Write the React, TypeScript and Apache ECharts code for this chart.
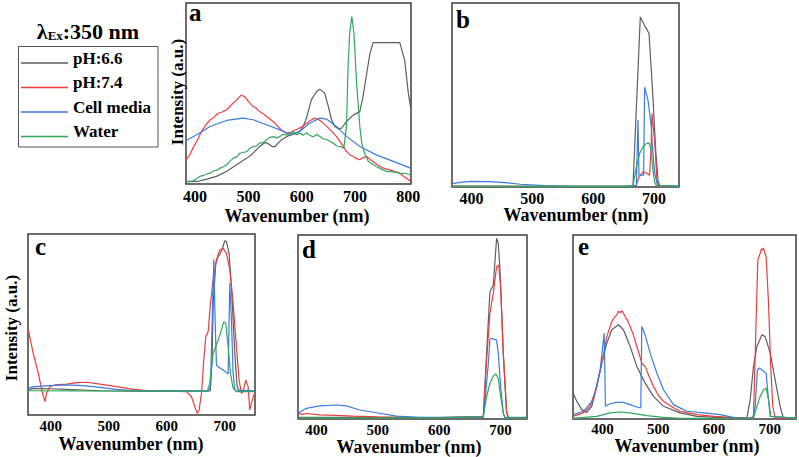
import React, { useEffect, useRef } from 'react';
import * as echarts from 'echarts';

type Pt = [number, number];

const SERIES_NAMES = ['pH:6.6', 'pH:7.4', 'Cell media', 'Water'];
const SERIES_COLORS = ['#5e5e5e', '#ee3b3b', '#3b7be0', '#2fa85a'];
const PANEL_LETTERS = ['a', 'b', 'c', 'd', 'e'];
const TICKS_A = [400, 500, 600, 700, 800];
const TICKS_BE = [400, 500, 600, 700];
const X_RANGES: [number, number][] = [[383, 805], [368, 741], [361, 752], [370, 743], [347, 747]];
const X_TITLE = 'Wavenumber (nm)';
const Y_TITLE = 'Intensity (a.u.)';
const EXCITATION = ':350 nm';

// ---- panel a ----
const A_PH66: Pt[] = [[383,1.4],[403,1.4],[422,2.7],[440,4.2],[459,6.9],[478,10.6],[497,14.3],[505,16],[510,17.5],[515,18.9],[520,20.5],[528,22.2],[533,23.0],[540,21.7],[545,20.6],[550,20.7],[556,22.6],[562,24.4],[575,26.6],[585,27.5],[596,29.0],[603,32],[609,36.4],[618,46.5],[628,51.1],[634,52.4],[643,50.2],[650,42.8],[656,35.5],[662,31.8],[669,30.6],[675,30.9],[684,34.5],[697,38.2],[709,40.0],[715,48.3],[722,61.2],[728,72.2],[734,78.1],[784,78.1],[793,68.6],[800,50.2],[804,42.8]];
const A_PH74: Pt[] = [[383,13.4],[390,16.0],[396,19.8],[404,24.0],[412,29.0],[420,32.5],[428,35.4],[435,36.8],[443,39.1],[451,39.8],[459,41.0],[465,42.5],[468,43.7],[473,45.0],[478,46.5],[483,48.0],[487,49.2],[490,48.6],[493,48.3],[497,46.8],[500,45.6],[505,44.0],[509,42.8],[515,41.8],[521,40.0],[527,39.0],[534,37.3],[541,35.8],[550,33.6],[556,31.5],[562,29.9],[567,28.9],[571,28.1],[580,28.6],[588,29.8],[596,30.9],[603,32.0],[609,33.6],[617,35.2],[625,36.4],[632,35.5],[640,33.8],[647,31.8],[655,29.5],[665,26.3],[675,22.0],[684,18.0],[690,16.2],[697,15.2],[703,14.0],[709,13.4],[715,14.6],[722,15.2],[728,13.6],[734,12.4],[740,11.0],[747,9.7],[755,8.6],[765,7.8],[775,6.8],[784,6.0],[792,4.0],[800,2.5],[804,1.4]];
const A_CELL: Pt[] = [[383,24.0],[403,27.2],[428,31.8],[459,35.1],[490,36.4],[509,35.5],[534,32.7],[559,29.9],[578,27.5],[596,29.0],[615,33.6],[634,36.4],[647,35.8],[665,31.8],[684,26.3],[709,20.7],[740,16.1],[772,12.5],[804,8.8]];
const A_WATER: Pt[] = [[383,1.4],[390,1.2],[397,1.8],[403,3.0],[409,4.2],[416,4.8],[422,5.5],[428,6.0],[434,7.2],[440,7.5],[447,8.8],[453,9.5],[459,10.6],[465,12.5],[472,14.3],[478,15.0],[484,17.0],[490,17.4],[497,17.9],[503,19.8],[509,20.7],[515,21.0],[521,22.6],[528,23.0],[534,24.4],[540,25.8],[547,26.2],[553,25.5],[559,26.2],[565,27.5],[572,27.0],[578,28.1],[584,29.0],[590,27.3],[596,28.1],[603,27.0],[609,28.3],[615,27.1],[621,26.0],[628,27.4],[634,26.2],[640,25.0],[647,24.6],[653,23.5],[659,22.6],[666,21.0],[672,20.7],[679,19.8],[684,31.7],[687,64.9],[690,83.3],[694,92.5],[698,83.3],[703,55.7],[709,31.7],[713,22.0],[718,17.0],[725,12.4],[732,11.0],[740,9.7],[750,8.2],[759,6.9],[770,6.8],[784,6.0],[795,5.8],[804,5.1]];

// ---- panel b ----
const B_PH66: Pt[] = [[368,0.5],[450,0.4],[550,0.3],[650,0.3],[665.4,0.4],[677.4,92.4],[684,88],[691.7,83.6],[698,50],[702.7,20],[706.5,3.6],[709.2,0.7],[741,0.4]];
const B_PH74: Pt[] = [[368,0.4],[500,0.3],[660,0.3],[670.9,0.9],[675.2,5.5],[681.8,8.2],[687.3,7.6],[692.7,6.4],[695,20],[696.6,40.0],[698.5,33],[700.9,25.5],[704.8,3.6],[708.1,0.5],[741,0.3]];
const B_CELL: Pt[] = [[368,1.8],[385,2.6],[400,3.1],[430,2.9],[460,2.2],[480,1.5],[520,0.8],[560,0.4],[650,0.3],[670.9,0.9],[673.6,36.4],[675.2,6.4],[682.9,6.4],[684.5,54.2],[686.2,52],[690,47.3],[695.5,32.7],[698.2,18.2],[700.9,8],[703.7,3.6],[705.5,0.9],[741,0.3]];
const B_WATER: Pt[] = [[368,0.3],[500,0.3],[660,0.3],[665.4,0.9],[670.9,10.9],[676.3,18.2],[681.8,21.8],[687.3,23.6],[691.7,24.0],[695.5,20.0],[698.2,9.1],[700.9,2.7],[703.7,0.7],[741,0.3]];

// ---- panel c ----
const C_PH66: Pt[] = [[361.5,13.8],[370,14.7],[400,14.5],[427,14.2],[485,13.4],[550,13.2],[620,13.2],[675,13.3],[678,30],[680,61.7],[684.5,83.8],[688.5,87.5],[692.5,89.3],[696,92.1],[700,96.3],[702.8,95.8],[707.4,89.3],[711.4,70.9],[717.2,34.1],[721.2,15.7],[725,13.3],[752,13.2]];
const C_PH74: Pt[] = [[361.5,47],[370,34.1],[378.7,23],[386.1,12],[390.2,7.4],[393,12],[398.8,15.7],[407.4,16.6],[427.4,17.1],[444.7,17.9],[461.9,18.1],[484.8,17.1],[513.5,15.7],[542.2,14.2],[570.9,13.4],[616.8,13.1],[634,12.9],[642.6,10.1],[648.3,4.6],[652.3,0.9],[655.8,2.8],[659.8,12],[663.8,30.4],[667.3,43.3],[671.3,46],[675.3,61.7],[679.9,74.6],[685.6,85.7],[691.3,91.2],[697.1,92.1],[702.8,89.3],[708.6,80.1],[714.3,61.7],[720,37.8],[724.6,19.3],[728.6,12],[731.5,12.9],[736.1,19.3],[740.1,15.7],[743,2.8],[745.8,6.4],[749.9,11],[751.6,12]];
const C_CELL: Pt[] = [[361.5,14.7],[370,15.7],[398.8,16.2],[427.4,16.6],[456,16.2],[484.8,15.3],[513.5,14.2],[542,13.4],[599.6,13.3],[671.3,13.3],[675.3,15.7],[681,86],[683.3,52.5],[685.6,27.6],[688.5,26.7],[697.1,24.9],[705.7,22.7],[708.6,72.8],[711.4,52.5],[714.3,23],[717.2,13.8],[752,13.3]];
const C_WATER: Pt[] = [[361.5,13.4],[450,13.3],[620,13.2],[670,13.3],[674,17.5],[680,34.1],[688.5,41.4],[694.2,47],[698.2,51.6],[701.7,50.7],[705.7,37.8],[709.7,23],[714.3,14.7],[720,12.9],[752,12.9]];

// ---- panel d ----
const D_PH66: Pt[] = [[370,0.9],[450,0.9],[600,0.8],[671.8,1.3],[677.2,35.7],[682.6,69.2],[688.1,72.8],[693.5,98.2],[696.2,95.5],[699,81],[704.4,35.7],[709.8,4],[712.5,0.9],[743,0.8]];
const D_PH74: Pt[] = [[370,3.1],[378,2.5],[383.6,3.0],[405.4,2.2],[430,2.0],[459.7,1.6],[500,1.2],[541.3,0.9],[600,0.8],[671.8,1.3],[677.2,32.1],[682.6,57.4],[688.1,68.3],[693.5,82.8],[696.8,83.7],[700.1,71.9],[704.4,35.7],[709.8,3.1],[713,0.8],[743,0.8]];
const D_CELL: Pt[] = [[370,3.1],[383.6,5.8],[405.4,7.1],[432.5,7.6],[448.9,7.1],[470.6,4.9],[497.8,3.4],[530.4,1.6],[568.5,0.9],[671.8,0.9],[676,15],[680,30],[682.6,43.3],[685.4,43.9],[693.5,42.9],[696.2,35.7],[700.1,17.6],[704.4,3.1],[707,0.9],[743,0.9]];
const D_WATER: Pt[] = [[370,0.6],[600,0.6],[671.8,1.3],[677.2,12.1],[682.6,19.4],[688.1,23.4],[692.4,24.5],[696.2,22.1],[700.1,12.1],[704.4,3.1],[707,0.6],[743,0.6]];

// ---- panel e ----
const E_PH66: Pt[] = [[347,14.1],[353.8,9.6],[362.8,5.1],[371.8,3.6],[380.7,6.9],[389.7,17.7],[398.7,30.4],[407.6,41.2],[416.6,48.5],[428.6,51.2],[437.5,48.5],[449.5,39.4],[461.5,28.6],[476.4,19.5],[491.4,12.3],[509.3,6.9],[539.2,3.3],[569.1,1.4],[629,0.5],[658.8,0.5],[664.8,10.5],[670.8,28.6],[676.9,39.4],[685.7,45.7],[691.7,44.8],[700.7,35.8],[709.6,21.3],[718.6,6.9],[724.6,0],[747,0]];
const E_PH74: Pt[] = [[346.6,1.4],[365.8,3.3],[377.7,6.9],[389.7,17.7],[398.7,30.4],[407.6,44.8],[416.6,53],[422,55.5],[425.6,56.6],[428,58.5],[431.6,57.9],[435,58.8],[440.5,55.7],[445,53.5],[449.5,50.3],[455,46],[461.5,39.4],[466,35],[470.4,30.4],[473,29.5],[476.4,28.6],[483,23.5],[491.4,17.7],[500,13],[509.3,9.6],[525,6.5],[539.2,4.2],[555,3.2],[569.1,2.4],[600,1.4],[629,0.9],[664.8,0.5],[670.8,1.4],[675.5,53.9],[678.5,86.4],[682.7,90],[685,92.5],[686.9,91.8],[688.5,93],[690.5,90.9],[693.5,88.2],[697.7,62.9],[701.9,26.8],[705.4,6.9],[709.6,0.5],[747,0.5]];
const E_CELL: Pt[] = [[346.6,2.4],[365.8,4.2],[383.7,10.5],[395.7,26.8],[402.9,46.6],[405.2,6.9],[413.6,8.3],[425.6,9.0],[437.5,9.0],[449.5,7.8],[461.5,6.5],[468.6,6.0],[470.4,50.3],[476.4,45.7],[485.4,35.8],[497.3,25],[509.3,15.9],[527.2,7.8],[551.2,4.2],[581,3.3],[611,2.4],[640.9,0.5],[669.6,0.5],[673.7,6.9],[677.9,26.8],[681.5,27.7],[688.7,25.9],[693.5,24.9],[697.7,10.5],[700.7,1.4],[747,0.5]];
const E_WATER: Pt[] = [[346.6,0.3],[389.7,1.4],[413.6,3.3],[431.6,3.8],[449.5,3.3],[479.4,1.8],[509.3,0.9],[540,0.3],[670.8,0.5],[676.9,6.9],[682.7,12.3],[688.7,15.9],[693.5,16.8],[697.7,10.5],[701.9,1.4],[747,0.3]];

const PANEL_DATA: Pt[][][] = [
  [A_PH66, A_PH74, A_CELL, A_WATER],
  [B_PH66, B_PH74, B_CELL, B_WATER],
  [C_PH66, C_PH74, C_CELL, C_WATER],
  [D_PH66, D_PH74, D_CELL, D_WATER],
  [E_PH66, E_PH74, E_CELL, E_WATER],
];

const FONT = '"Liberation Serif", "Times New Roman", serif';

const GRIDS = [
  { left: 186, top: 3, width: 225, height: 181 },
  { left: 452, top: 3, width: 227, height: 184 },
  { left: 28, top: 234, width: 227, height: 181 },
  { left: 298, top: 235, width: 229, height: 184 },
  { left: 573, top: 235, width: 223, height: 184 },
];
const LABEL_MARGINS = [4, 3, 3, 3, 2];
const LABEL_SIZES = [16, 16, 15, 15, 15];
const LETTER_POS = [[189, 12.5], [456, 19], [35, 246], [302, 249.5], [578, 246]];
const XTITLE_POS = [[297, 216], [576, 215], [131, 444], [409, 447], [687, 446]];
const YTITLE_POS = [[177, 92], [11, 328]];
// legend icon: a line drawn at the foot of the icon box (text baseline), with a tiny invisible anchor at the top
const LEGEND_ICON = 'path://M0,0 L0.01,0 L0.01,0.01 L0,0.01 Z M0,10 L47,10 L47,11.5 L0,11.5 Z';

export default function App() {
  const ref = useRef<HTMLDivElement>(null);
  useEffect(() => {
    if (!ref.current) return;
    const chart = echarts.init(ref.current, undefined, { renderer: 'svg' });
    const series: any[] = [];
    PANEL_DATA.forEach((panel, pi) => {
      panel.forEach((data, si) => {
        series.push({
          type: 'line',
          name: SERIES_NAMES[si],
          xAxisIndex: pi,
          yAxisIndex: pi,
          data,
          symbol: 'none',
          showSymbol: false,
          lineStyle: { width: 1.2, color: SERIES_COLORS[si] },
          itemStyle: { color: SERIES_COLORS[si] },
        });
      });
    });
    const graphics: any[] = [];
    PANEL_LETTERS.forEach((l, i) => {
      graphics.push({
        type: 'text', x: LETTER_POS[i][0], y: LETTER_POS[i][1],
        style: { text: l, fontFamily: FONT, fontWeight: 'bold', fontSize: 25, fill: '#000', align: 'left', verticalAlign: 'middle' },
      });
      graphics.push({
        type: 'text', x: XTITLE_POS[i][0], y: XTITLE_POS[i][1],
        style: { text: X_TITLE, fontFamily: FONT, fontWeight: 'bold', fontSize: 18, fill: '#000', align: 'center', verticalAlign: 'middle' },
      });
    });
    YTITLE_POS.forEach((p) => {
      graphics.push({
        type: 'text', x: p[0], y: p[1], rotation: Math.PI / 2,
        style: { text: Y_TITLE, fontFamily: FONT, fontWeight: 'bold', fontSize: 17, fill: '#000', align: 'center', verticalAlign: 'middle' },
      });
    });
    graphics.push({
      type: 'text', x: 88, y: 42,
      style: {
        text: '{l|λ}{s|Ex}{n|' + EXCITATION + '}',
        align: 'center', verticalAlign: 'bottom', fill: '#000',
        rich: {
          l: { fontFamily: FONT, fontWeight: 'bold', fontSize: 22, lineHeight: 24, verticalAlign: 'bottom' },
          s: { fontFamily: FONT, fontWeight: 'bold', fontSize: 13, lineHeight: 13, verticalAlign: 'bottom' },
          n: { fontFamily: FONT, fontWeight: 'bold', fontSize: 22, lineHeight: 24, verticalAlign: 'bottom' },
        },
      },
    });
    graphics.push({
      type: 'rect', shape: { x: 18.5, y: 46.5, width: 139.5, height: 100.5 },
      style: { fill: 'none', stroke: '#555', lineWidth: 1 }, silent: true,
    });

    chart.setOption({
      animation: false,
      backgroundColor: '#fff',
      grid: GRIDS.map((g) => ({ ...g, show: true, borderColor: '#3c3c3c', borderWidth: 1.5, backgroundColor: 'transparent', containLabel: false })),
      xAxis: GRIDS.map((_, i) => ({
        type: 'value', gridIndex: i, min: X_RANGES[i][0], max: X_RANGES[i][1],
        axisLine: { show: false }, axisTick: { show: false }, splitLine: { show: false },
        axisLabel: {
          customValues: i === 0 ? TICKS_A : TICKS_BE,
          margin: LABEL_MARGINS[i], fontFamily: FONT, fontWeight: 'bold', fontSize: LABEL_SIZES[i], color: '#000',
        },
      })),
      yAxis: GRIDS.map((_, i) => ({ type: 'value', gridIndex: i, min: 0, max: 100, show: false })),
      legend: {
        data: SERIES_NAMES.map((n) => ({ name: n, icon: LEGEND_ICON })),
        orient: 'vertical', left: 21, top: 49.5, padding: 0,
        itemWidth: 47, itemHeight: 12, itemGap: 7.5, selectedMode: false,
        textStyle: { fontFamily: FONT, fontWeight: 'bold', fontSize: 17, color: '#000', lineHeight: 17 },
      },
      graphic: graphics,
      series,
    });
    return () => chart.dispose();
  }, []);
  return <div ref={ref} style={{ position: 'absolute', left: 0, top: 0, width: 799, height: 457 }} />;
}
